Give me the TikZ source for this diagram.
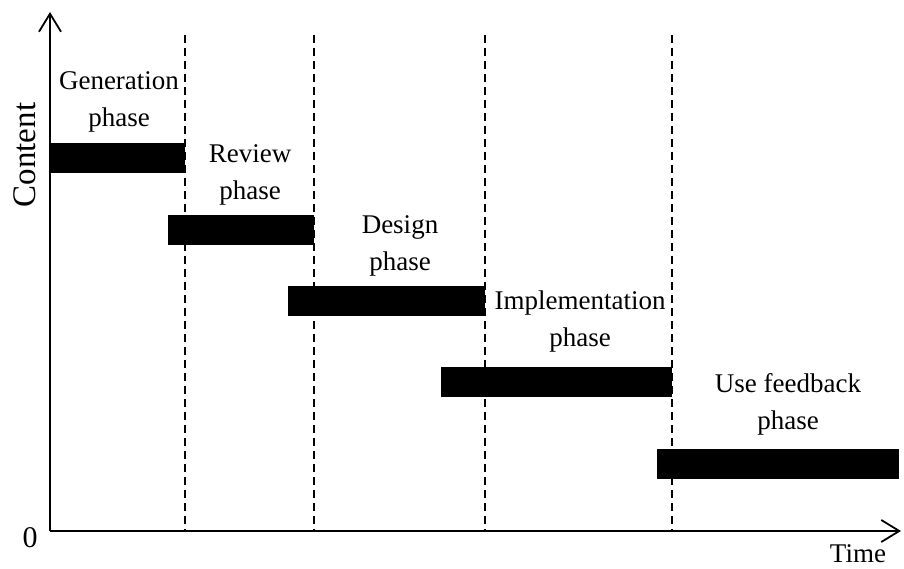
\documentclass[tikz,border=0pt]{standalone}
\usepackage{fontspec}
\setmainfont{Liberation Serif}
\usetikzlibrary{arrows.meta}
\begin{document}
\begin{tikzpicture}[x=1pt,y=-1pt,
  axis/.style={line width=2pt,-{Straight Barb[length=18pt,width=22pt,line width=1.8pt]}},
  sep/.style={line width=1.6pt,dash pattern=on 8pt off 5pt},
  bar/.style={fill=black,draw=none,inner sep=0pt,minimum height=30pt,anchor=north west},
  lbl/.style={font=\fontsize{27}{37}\selectfont,align=center,inner sep=0pt}]
\useasboundingbox (0,0) rectangle (904,569);
\coordinate (O) at (50,531);
\coordinate (ytop) at (50,12);
\coordinate (xend) at (901,531);
\draw[axis] (O) -- (ytop);
\draw[axis] (O) -- (xend);
% dashed separators
\foreach \x/\n in {185/a,314/b,485/c,672/d}{
  \coordinate (t\n) at (\x,35);
  \coordinate (b\n) at (\x,531);
  \draw[sep] (t\n) -- (b\n);
}
% bars
\node[bar,minimum width=135pt] (gen) at (50,143) {};
\node[bar,minimum width=146pt] (rev) at (168,215) {};
\node[bar,minimum width=197pt] (des) at (288,286) {};
\node[bar,minimum width=231pt] (imp) at (441,367) {};
\node[bar,minimum width=242pt] (use) at (657,449) {};
% labels
\node[lbl] (lgen) at (119,102) {Generation\\phase};
\node[lbl] (lrev) at (250,175) {Review\\phase};
\node[lbl] (ldes) at (400,246) {Design\\phase};
\node[lbl] (limp) at (580,322) {Implementation\\phase};
\node[lbl] (luse) at (788,404) {Use feedback\\phase};
\node[lbl,rotate=90,font=\fontsize{33}{37}\selectfont] (lcontent) at (25,155) {Content};
\node[lbl,font=\fontsize{30}{37}\selectfont] (lzero) at (30,538) {0};
\node[lbl] (ltime) at (858,554) {Time};
\end{tikzpicture}
\end{document}
